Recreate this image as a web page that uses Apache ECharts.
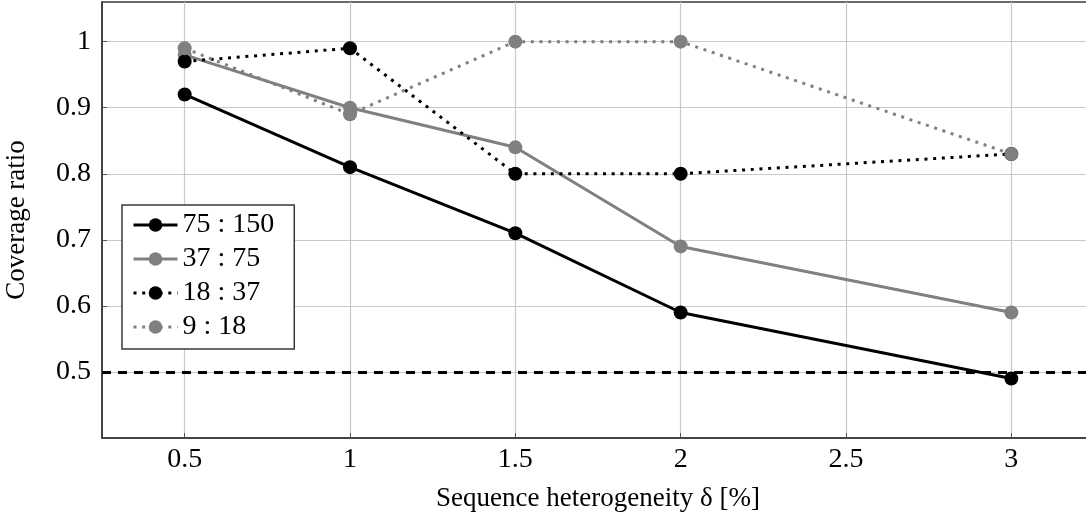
<!DOCTYPE html>
<html>
<head>
<meta charset="utf-8">
<script src="https://cdn.jsdelivr.net/npm/echarts@6/dist/echarts.min.js"></script>
<style>
  html, body { margin: 0; padding: 0; background: #fff; }
  #chart { width: 1086px; height: 523px; }
</style>
</head>
<body>
<div id="chart"></div>
<script>
// data
const xTicks = [0.5, 1, 1.5, 2, 2.5, 3];
const yTicks = [0.5, 0.6, 0.7, 0.8, 0.9, 1];
const deltas = [0.5, 1, 1.5, 2, 3];
const r75_150 = [0.92, 0.81, 0.71, 0.59, 0.49];
const r37_75 = [0.98, 0.90, 0.84, 0.69, 0.59];
const r18_37 = [0.97, 0.99, 0.80, 0.80, 0.83];
const r9_18 = [0.99, 0.89, 1.00, 1.00, 0.83];
const seriesNames = ['75 : 150', '37 : 75', '18 : 37', '9 : 18'];
const threshold = 0.5;

const font = 'Liberation Serif';
const gray = '#808080';
const dotted = [3, 5.7];

function pairs(ys) {
  return deltas.map((x, i) => [x, ys[i]]);
}

function lineSeries(name, ys, color, dash) {
  return {
    name: name,
    type: 'line',
    data: pairs(ys),
    symbol: 'circle',
    symbolSize: 14,
    showSymbol: true,
    itemStyle: { color: color },
    lineStyle: { color: color, width: 3, type: dash, cap: 'butt' },
    emphasis: { disabled: true },
    animation: false
  };
}

const chart = echarts.init(document.getElementById('chart'));

const series = [
  lineSeries(seriesNames[0], r75_150, '#000', 'solid'),
  lineSeries(seriesNames[1], r37_75, gray, 'solid'),
  lineSeries(seriesNames[2], r18_37, '#000', dotted),
  lineSeries(seriesNames[3], r9_18, gray, dotted)
];
// dashed reference line at 0.5
series[0].markLine = {
  silent: true,
  symbol: 'none',
  label: { show: false },
  lineStyle: { color: '#000', width: 3, type: [9, 7] },
  data: [{ yAxis: threshold }],
  animation: false
};

chart.setOption({
  backgroundColor: '#fff',
  animation: false,
  grid: {
    left: 102, top: 2, right: -8, bottom: 85,
    outerBoundsMode: 'none',
    show: true,
    borderColor: '#3a3a3a',
    borderWidth: 1.5,
    backgroundColor: 'transparent'
  },
  xAxis: {
    type: 'value',
    min: 0.25,
    max: 3.25,
    name: 'Sequence heterogeneity δ [%]',
    nameLocation: 'middle',
    nameGap: 47,
    nameTextStyle: { fontFamily: font, fontSize: 27, color: '#000' },
    axisLine: { show: true, lineStyle: { color: '#3a3a3a', width: 1.5 } },
    axisTick: { show: true, inside: true, length: 5, customValues: xTicks, lineStyle: { color: '#555' } },
    axisLabel: { customValues: xTicks, fontFamily: font, fontSize: 28, color: '#000', margin: 8 },
    splitLine: { show: true, lineStyle: { color: '#c8c8c8', width: 1.2 } }
  },
  yAxis: {
    type: 'value',
    min: 0.4,
    max: 1.06,
    name: 'Coverage ratio',
    nameLocation: 'middle',
    nameGap: 72,
    nameTextStyle: { fontFamily: font, fontSize: 27, color: '#000' },
    axisLine: { show: true, lineStyle: { color: '#3a3a3a', width: 1.5 } },
    axisTick: { show: true, inside: true, length: 5, customValues: yTicks, lineStyle: { color: '#555' } },
    axisLabel: { customValues: yTicks, fontFamily: font, fontSize: 28, color: '#000', margin: 11 },
    splitLine: { show: true, lineStyle: { color: '#c8c8c8', width: 1.2 } }
  },
  legend: {
    data: seriesNames,
    orient: 'vertical',
    left: 122,
    top: 205,
    padding: [6, 20, 8, 10],
    itemGap: 6,
    itemWidth: 44,
    itemHeight: 17,
    lineStyle: { width: 3 },
    backgroundColor: '#fff',
    borderColor: '#3a3a3a',
    borderWidth: 1.5,
    borderRadius: 0,
    selectedMode: false,
    textStyle: { fontFamily: font, fontSize: 28, color: '#000' }
  },
  series: series
});
</script>
</body>
</html>
